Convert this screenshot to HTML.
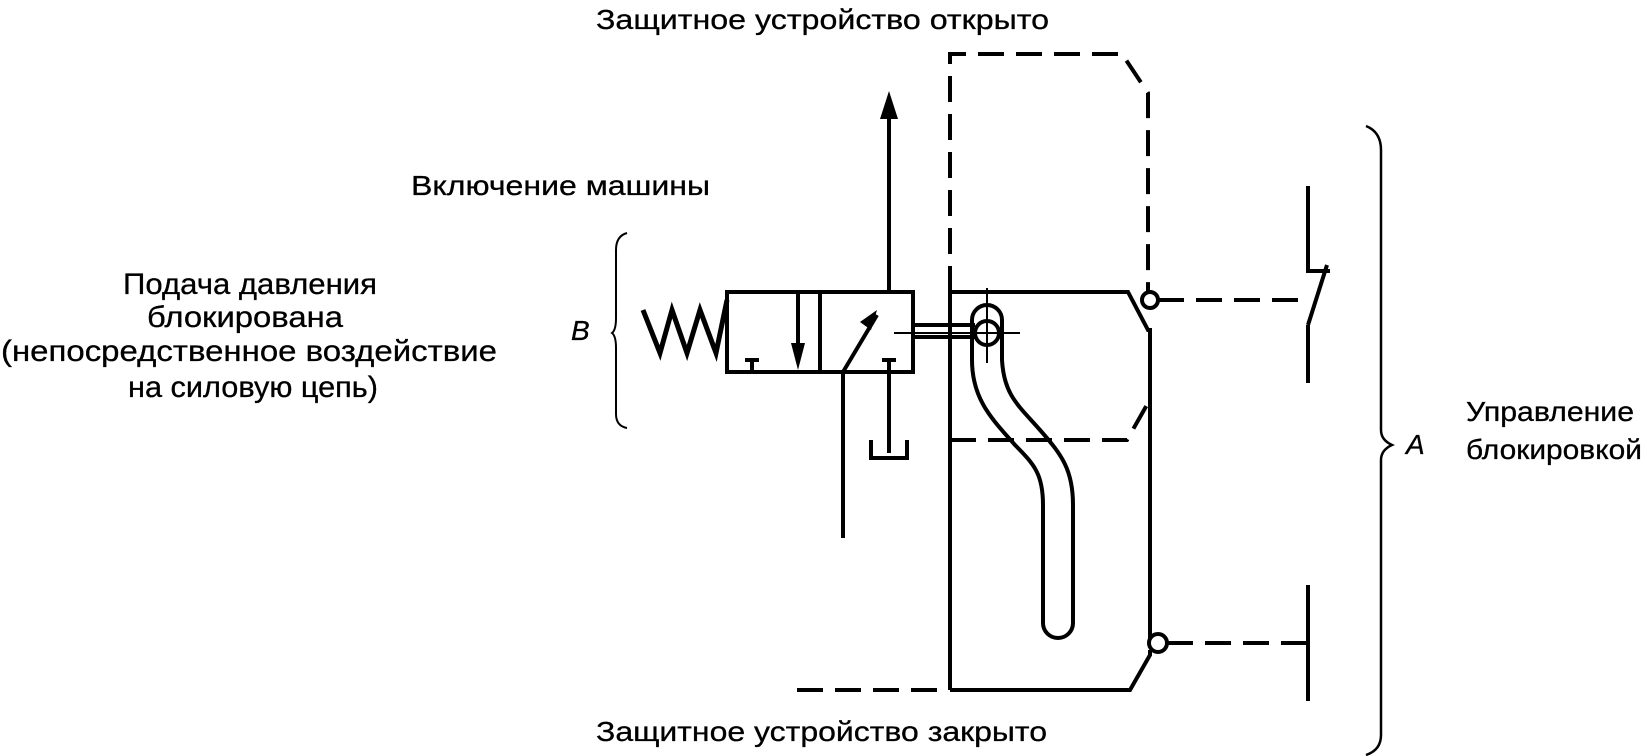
<!DOCTYPE html>
<html><head><meta charset="utf-8"><style>
html,body{margin:0;padding:0;background:#fff}
svg{display:block}
text{font-family:"Liberation Sans",Arial,sans-serif;fill:#000;stroke:#000;stroke-width:0.3}
</style></head><body>
<svg width="1647" height="756" viewBox="0 0 1647 756" xmlns="http://www.w3.org/2000/svg">
<g font-size="28">
<text x="596" y="29" textLength="453" lengthAdjust="spacingAndGlyphs">Защитное устройство открыто</text>
<text x="411" y="195" textLength="299" lengthAdjust="spacingAndGlyphs">Включение машины</text>
<text x="571" y="340" font-style="italic">B</text>
<text x="1406" y="454" font-style="italic">A</text>
<text x="1466" y="421" textLength="168" lengthAdjust="spacingAndGlyphs">Управление</text>
<text x="1466" y="459" textLength="176" lengthAdjust="spacingAndGlyphs">блокировкой</text>
<text x="596" y="741" textLength="451" lengthAdjust="spacingAndGlyphs">Защитное устройство закрыто</text>
</g>
<g font-size="30">
<text x="123" y="294" textLength="254" lengthAdjust="spacingAndGlyphs">Подача давления</text>
<text x="147" y="327" textLength="196" lengthAdjust="spacingAndGlyphs">блокирована</text>
<text x="1" y="361" textLength="496" lengthAdjust="spacingAndGlyphs">(непосредственное воздействие</text>
<text x="128" y="397" textLength="250" lengthAdjust="spacingAndGlyphs">на силовую цепь)</text>
</g>
<g fill="none" stroke="#000" stroke-width="4" stroke-linejoin="miter">
<path d="M627,233 Q616,236 616,250 L616,318 Q616,330 612,333 Q616,336 616,348 L616,414 Q616,426 627,428" stroke-width="2"/>
<path d="M1366,126 Q1381,132 1381,150 L1381,430 Q1381,440 1392,445 Q1381,450 1381,460 L1381,735 Q1381,750 1366,755" stroke-width="2.5"/>
<rect x="727" y="292" width="186" height="80"/>
<line x1="820" y1="292" x2="820" y2="372"/>
<polyline points="727,300 716,353 700,310 687,353 672,310 660,353 643,310" stroke-width="5"/>
<line x1="798" y1="292" x2="798" y2="345"/>
<line x1="745" y1="360" x2="759" y2="360"/><line x1="752" y1="360" x2="752" y2="372"/>
<line x1="882" y1="360" x2="896" y2="360"/>
<line x1="889" y1="360" x2="889" y2="453"/>
<polyline points="871,440 871,458 907,458 907,440"/>
<line x1="843" y1="372" x2="843" y2="538"/>
<line x1="843" y1="372" x2="877" y2="315"/>
<line x1="889" y1="292" x2="889" y2="117"/>
<line x1="913" y1="325" x2="975" y2="325"/>
<line x1="913" y1="337" x2="975" y2="337"/>
<line x1="894" y1="333" x2="1020" y2="333" stroke-width="2"/>
<line x1="987" y1="288" x2="987" y2="363" stroke-width="2"/>
<circle cx="987" cy="333" r="12"/>
<path d="M972,320 A15,15 0 0 1 1002,320 L1002,360 C1004,395 1018,405 1040,430 C1062,455 1073,470 1073,505 L1073,623 A15,15 0 0 1 1043,623 L1043,505 C1043,475 1035,465 1015,445 C993,420 972,400 972,360 Z"/>
<polyline points="950,690 950,292 1128,292 1148,330 1150,330 1150,640"/>
<polyline points="1150,650 1150,655 1130,690 950,690"/>
<circle cx="1150" cy="300" r="8" fill="#fff"/>
<circle cx="1158" cy="643" r="9" fill="#fff"/>
<polyline points="1308,186 1308,271 1330,271"/>
<line x1="1327" y1="265" x2="1308" y2="325"/>
<line x1="1308" y1="325" x2="1308" y2="383"/>
<line x1="1308" y1="585" x2="1308" y2="701"/>
</g>
<g fill="none" stroke="#000" stroke-width="4" stroke-dasharray="26,12">
<polyline points="950,292 950,54 1122,54 1148,93 1148,292"/>
<polyline points="950,440 1127,440 1148,403"/>
<line x1="1158" y1="300" x2="1308" y2="300"/>
<line x1="1167" y1="643" x2="1308" y2="643"/>
<line x1="797" y1="690" x2="946" y2="690"/>
</g>
<polygon points="889,91 880,119 898,119" fill="#000"/>
<polygon points="798,370 791,343 805,343" fill="#000"/>
<polygon points="877,310 860,322 871,330" fill="#000"/>
</svg>
</body></html>
